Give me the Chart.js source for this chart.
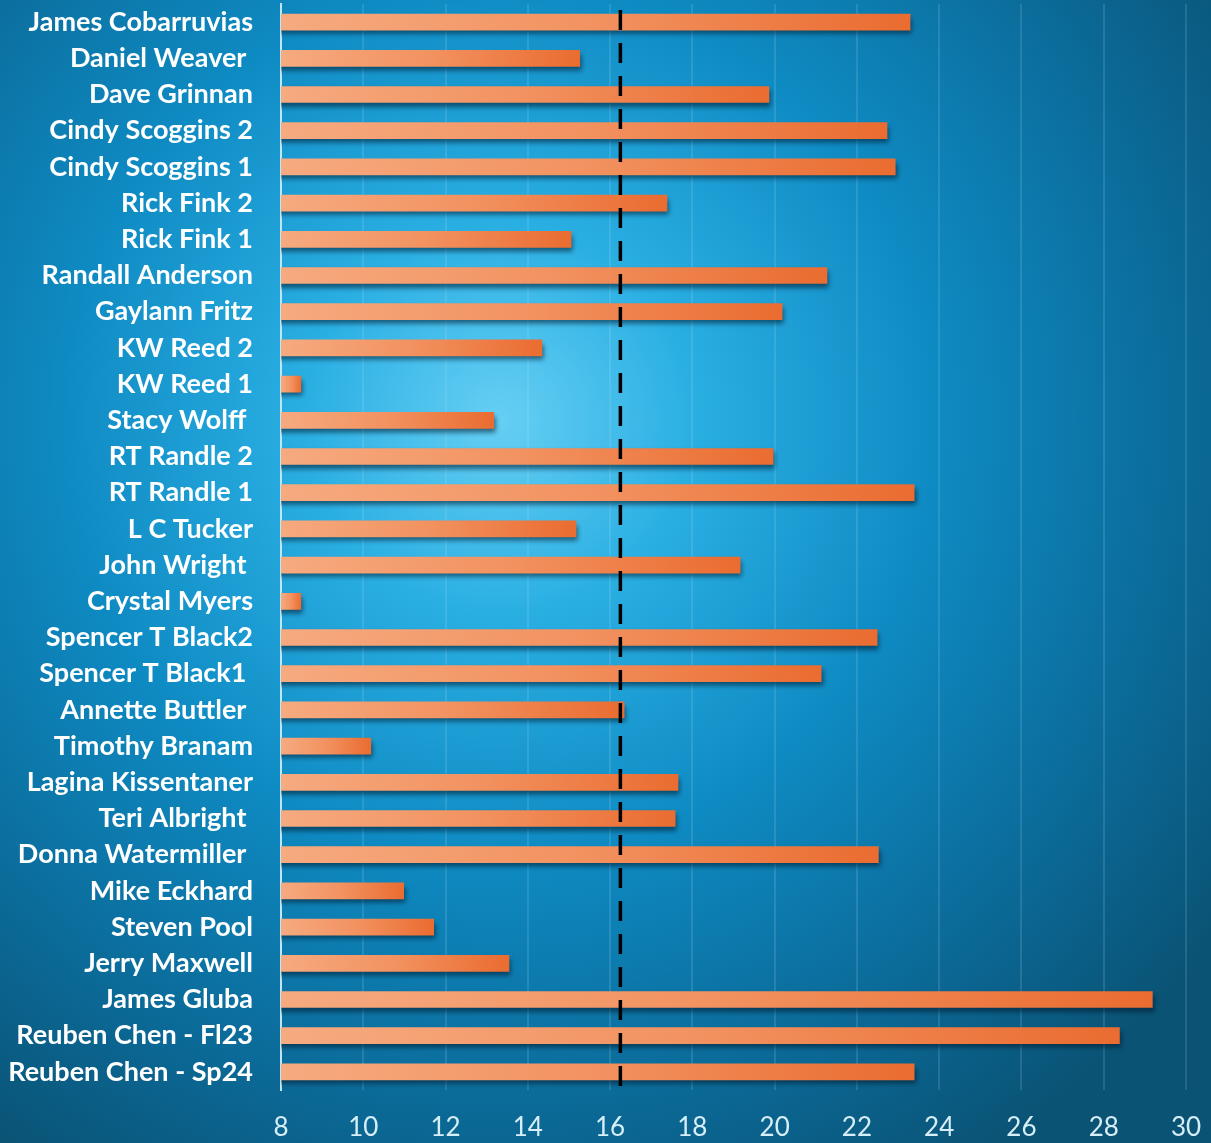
<!DOCTYPE html>
<html>
<head>
<meta charset="utf-8">
<script src="https://cdn.jsdelivr.net/npm/chart.js@4/dist/chart.umd.min.js"></script>
<style>
    html, body { margin: 0; padding: 0; background: #0c6a97; }
    #wrap { width: 1211px; height: 1143px; position: relative; }
</style>
</head>
<body>
<div id="wrap"><canvas id="chart"></canvas></div>
<script>
// Names as shown on the chart (top to bottom)
const names = [
    'James Cobarruvias', 'Daniel Weaver ', 'Dave Grinnan', 'Cindy Scoggins 2', 'Cindy Scoggins 1',
    'Rick Fink 2', 'Rick Fink 1', 'Randall Anderson', 'Gaylann Fritz', 'KW Reed 2',
    'KW Reed 1', 'Stacy Wolff ', 'RT Randle 2', 'RT Randle 1', 'L C Tucker',
    'John Wright ', 'Crystal Myers', 'Spencer T Black2', 'Spencer T Black1 ', 'Annette Buttler ',
    'Timothy Branam', 'Lagina Kissentaner', 'Teri Albright ', 'Donna Watermiller ', 'Mike Eckhard',
    'Steven Pool', 'Jerry Maxwell', 'James Gluba', 'Reuben Chen - Fl23', 'Reuben Chen - Sp24'
];

const scores = [
    23.3, 15.27, 19.87, 22.74, 22.94,
    17.39, 15.06, 21.28, 20.19, 14.35,
    8.49, 13.18, 19.97, 23.4, 15.18,
    19.17, 8.49, 22.5, 21.14, 16.35,
    10.19, 17.66, 17.59, 22.53, 10.99,
    11.72, 13.55, 29.19, 28.39, 23.4
];

const xMin = 8;
const xMax = 30;
const xStep = 2;
const averageLine = 16.25;

// Blue radial backdrop behind everything
const backdropPlugin = {
    id: 'backdrop',
    beforeDraw(chart) {
        const ctx = chart.ctx;
        const w = chart.width, h = chart.height;
        ctx.save();
        const g = ctx.createRadialGradient(500, 420, 0, 500, 420, 880);
        g.addColorStop(0, '#66cff4');
        g.addColorStop(0.22, '#2aafe3');
        g.addColorStop(0.5, '#0e8ac2');
        g.addColorStop(0.78, '#0b6a98');
        g.addColorStop(1, '#0a5375');
        ctx.fillStyle = g;
        ctx.fillRect(0, 0, w, h);
        ctx.restore();
    }
};

// Soft shadow under the bars
const barShadowPlugin = {
    id: 'barShadow',
    beforeDatasetsDraw(chart) {
        const ctx = chart.ctx;
        ctx.save();
        ctx.shadowColor = 'rgba(0, 25, 45, 0.6)';
        ctx.shadowBlur = 5;
        ctx.shadowOffsetX = 2;
        ctx.shadowOffsetY = 4;
    },
    afterDatasetsDraw(chart) {
        chart.ctx.restore();
    }
};

// Dashed black reference line
const refLinePlugin = {
    id: 'refLine',
    afterDatasetsDraw(chart) {
        const ctx = chart.ctx;
        const x = chart.scales.x.getPixelForValue(averageLine);
        const area = chart.chartArea;
        ctx.save();
        ctx.strokeStyle = '#000000';
        ctx.lineWidth = 3.5;
        ctx.setLineDash([20, 13]);
        ctx.beginPath();
        ctx.moveTo(x, area.top + 6);
        ctx.lineTo(x, area.bottom - 4);
        ctx.stroke();
        ctx.restore();
    }
};

// light peach at the base, deeper orange toward each bar's end
function barGradient(context) {
    const chart = context.chart;
    const xScale = chart.scales.x;
    if (!xScale || context.dataIndex === undefined) return '#ef8a52';
    const x0 = xScale.getPixelForValue(xMin);
    const x1 = xScale.getPixelForValue(scores[context.dataIndex]);
    if (!isFinite(x0) || !isFinite(x1) || x1 <= x0) return '#ef8a52';
    const g = chart.ctx.createLinearGradient(x0, 0, x1, 0);
    g.addColorStop(0, '#f6aa80');
    g.addColorStop(0.5, '#f29260');
    g.addColorStop(1, '#ea6c30');
    return g;
}

const ctx = document.getElementById('chart').getContext('2d');
new Chart(ctx, {
    type: 'bar',
    data: {
        labels: names,
        datasets: [{
            data: scores,
            backgroundColor: barGradient,
            borderWidth: 0,
            barPercentage: 0.92,
            categoryPercentage: 0.5
        }]
    },
    options: {
        indexAxis: 'y',
        responsive: true,
        maintainAspectRatio: false,
        animation: false,
        layout: { padding: { top: 4, right: 25, left: 0, bottom: 0 } },
        plugins: {
            legend: { display: false },
            tooltip: { enabled: false }
        },
        scales: {
            x: {
                min: xMin,
                max: xMax,
                ticks: {
                    stepSize: xStep,
                    color: '#d6eef7',
                    padding: 22,
                    font: { family: 'Lato', size: 26 }
                },
                grid: {
                    color: 'rgba(190, 230, 250, 0.15)',
                    lineWidth: 2,
                    drawTicks: false
                },
                border: { display: false },
                afterFit(scale) {
                    scale.height = 53;
                    scale.paddingLeft = 0;
                    scale.paddingRight = 0;
                }
            },
            y: {
                ticks: {
                    color: '#ffffff',
                    padding: 28,
                    font: { family: 'Lato', size: 27, weight: 'bold' }
                },
                grid: { display: false, drawTicks: false },
                border: { display: true, color: '#bfe6f5', width: 2 },
                afterFit(scale) {
                    scale.width = 281;
                    scale.paddingTop = 0;
                    scale.paddingBottom = 0;
                }
            }
        }
    },
    plugins: [backdropPlugin, barShadowPlugin, refLinePlugin]
});
</script>
</body>
</html>
